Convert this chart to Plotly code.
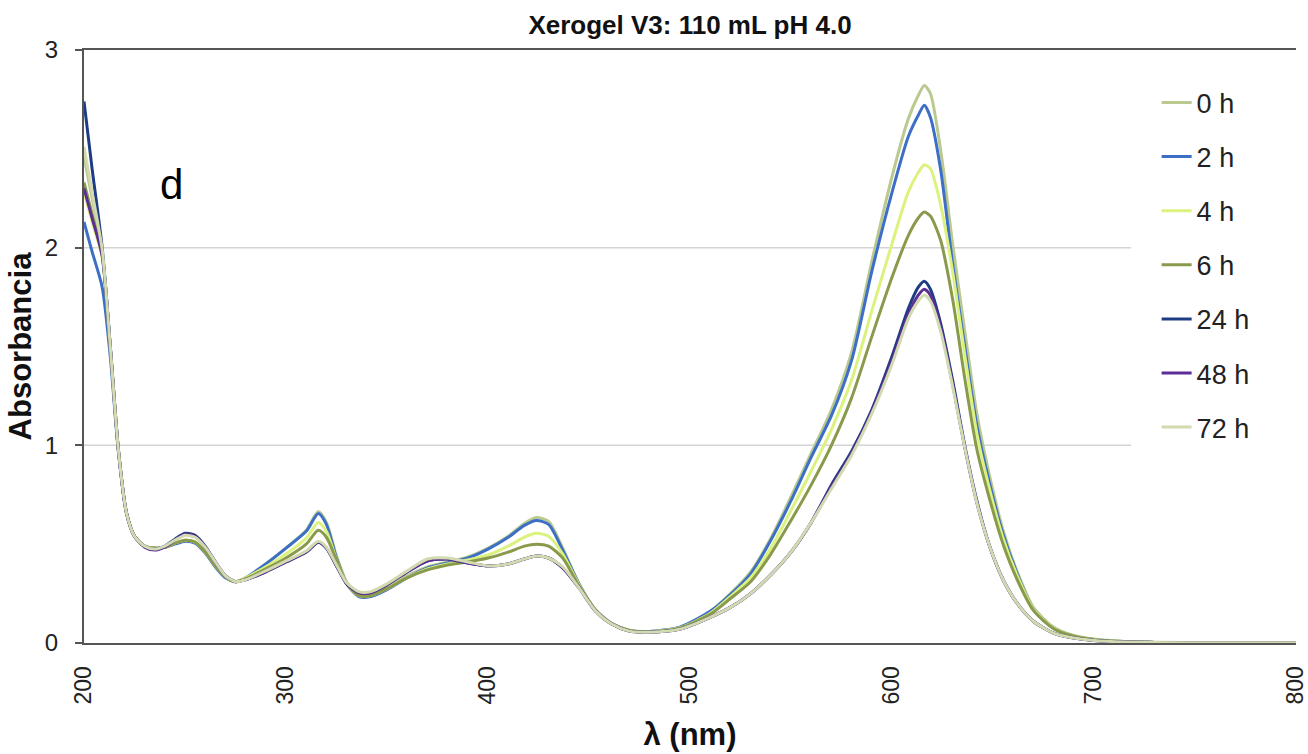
import plotly.graph_objects as go

# Wavelength grid (nm) shared by every spectrum
wavelength = [200, 204, 209, 213, 217, 221, 225, 230, 235, 240,
              245, 250, 255, 260, 265, 270, 275, 280, 290, 300,
              310, 316, 320, 325, 330, 336, 342, 350, 360, 370,
              380, 390, 400, 410, 418, 424, 430, 437, 445, 453,
              461, 470, 480, 495, 510, 520, 530, 540, 550, 560,
              570, 580, 590, 600, 608, 613, 616, 619, 624, 630,
              636, 642, 648, 655, 662, 670, 680, 690, 700, 715,
              730, 760, 800]

abs_0h = [2.46, 2.25, 1.98, 1.50, 0.98, 0.66, 0.54, 0.49, 0.48, 0.485,
          0.505, 0.52, 0.51, 0.46, 0.39, 0.335, 0.31, 0.33, 0.40, 0.48,
          0.57, 0.665, 0.61, 0.44, 0.31, 0.245, 0.245, 0.28, 0.34, 0.385,
          0.41, 0.435, 0.48, 0.54, 0.605, 0.635, 0.615, 0.48, 0.30, 0.17,
          0.10, 0.065, 0.058, 0.08, 0.16, 0.25, 0.36, 0.53, 0.74, 0.96,
          1.18, 1.47, 1.93, 2.36, 2.65, 2.77, 2.82, 2.78, 2.50, 2.02,
          1.58, 1.16, 0.86, 0.57, 0.36, 0.18, 0.08, 0.038, 0.02, 0.008,
          0.004, 0.002, 0.001]

abs_2h = [2.13, 1.98, 1.80, 1.45, 0.97, 0.66, 0.54, 0.49, 0.48, 0.485,
          0.50, 0.515, 0.505, 0.455, 0.385, 0.33, 0.31, 0.33, 0.40, 0.48,
          0.565, 0.655, 0.60, 0.43, 0.30, 0.235, 0.235, 0.27, 0.33, 0.38,
          0.405, 0.43, 0.475, 0.535, 0.595, 0.62, 0.60, 0.47, 0.30, 0.17,
          0.10, 0.064, 0.058, 0.08, 0.16, 0.245, 0.35, 0.52, 0.72, 0.94,
          1.15, 1.43, 1.88, 2.28, 2.56, 2.67, 2.72, 2.66, 2.40, 1.92,
          1.50, 1.10, 0.82, 0.55, 0.35, 0.17, 0.075, 0.035, 0.018, 0.007,
          0.003, 0.002, 0.001]

abs_4h = [2.28, 2.13, 1.95, 1.49, 0.98, 0.66, 0.54, 0.49, 0.48, 0.485,
          0.505, 0.52, 0.51, 0.46, 0.39, 0.335, 0.31, 0.33, 0.385, 0.45,
          0.53, 0.61, 0.565, 0.42, 0.30, 0.24, 0.24, 0.275, 0.33, 0.375,
          0.40, 0.42, 0.445, 0.49, 0.535, 0.555, 0.54, 0.45, 0.295, 0.17,
          0.10, 0.063, 0.057, 0.077, 0.15, 0.235, 0.33, 0.48, 0.67, 0.87,
          1.08, 1.33, 1.68, 2.02, 2.28, 2.38, 2.42, 2.40, 2.22, 1.88,
          1.46, 1.06, 0.79, 0.53, 0.34, 0.17, 0.075, 0.035, 0.018, 0.007,
          0.003, 0.002, 0.001]

abs_6h = [2.33, 2.17, 1.96, 1.50, 0.98, 0.66, 0.54, 0.49, 0.48, 0.485,
          0.505, 0.52, 0.51, 0.46, 0.39, 0.335, 0.31, 0.325, 0.375, 0.43,
          0.50, 0.57, 0.535, 0.42, 0.30, 0.24, 0.24, 0.275, 0.33, 0.37,
          0.395, 0.41, 0.43, 0.46, 0.49, 0.50, 0.49, 0.43, 0.29, 0.17,
          0.10, 0.063, 0.057, 0.075, 0.145, 0.225, 0.31, 0.45, 0.62, 0.80,
          1.00, 1.24, 1.55, 1.85, 2.06, 2.15, 2.18, 2.16, 2.04, 1.74,
          1.34, 0.98, 0.74, 0.50, 0.32, 0.165, 0.072, 0.034, 0.017, 0.007,
          0.003, 0.002, 0.001]

abs_24h = [2.74, 2.40, 2.00, 1.50, 0.98, 0.66, 0.54, 0.49, 0.475, 0.49,
           0.525, 0.555, 0.545, 0.49, 0.41, 0.34, 0.31, 0.32, 0.36, 0.41,
           0.46, 0.51, 0.48, 0.39, 0.30, 0.255, 0.255, 0.295, 0.36, 0.415,
           0.425, 0.405, 0.39, 0.40, 0.425, 0.44, 0.43, 0.38, 0.28, 0.165,
           0.097, 0.06, 0.055, 0.07, 0.13, 0.18, 0.25, 0.345, 0.46, 0.61,
           0.80, 0.97, 1.18, 1.45, 1.69, 1.80, 1.83, 1.79, 1.62, 1.33,
           1.00, 0.72, 0.50, 0.32, 0.20, 0.11, 0.05, 0.025, 0.013, 0.005,
           0.003, 0.001, 0.001]

abs_48h = [2.30, 2.15, 1.96, 1.50, 0.98, 0.66, 0.54, 0.485, 0.47, 0.485,
           0.52, 0.55, 0.54, 0.485, 0.41, 0.34, 0.31, 0.32, 0.36, 0.41,
           0.46, 0.51, 0.48, 0.39, 0.30, 0.255, 0.255, 0.295, 0.36, 0.415,
           0.425, 0.405, 0.39, 0.40, 0.425, 0.44, 0.43, 0.38, 0.28, 0.165,
           0.097, 0.06, 0.055, 0.07, 0.13, 0.18, 0.25, 0.345, 0.46, 0.61,
           0.79, 0.96, 1.17, 1.43, 1.66, 1.76, 1.79, 1.76, 1.60, 1.31,
           0.99, 0.71, 0.50, 0.32, 0.20, 0.11, 0.05, 0.025, 0.013, 0.005,
           0.003, 0.001, 0.001]

abs_72h = [2.51, 2.28, 1.99, 1.50, 0.98, 0.66, 0.54, 0.49, 0.475, 0.49,
           0.52, 0.545, 0.535, 0.485, 0.41, 0.34, 0.31, 0.32, 0.365, 0.415,
           0.465, 0.515, 0.485, 0.395, 0.305, 0.26, 0.26, 0.30, 0.365, 0.425,
           0.43, 0.41, 0.39, 0.40, 0.425, 0.44, 0.43, 0.385, 0.28, 0.165,
           0.097, 0.06, 0.055, 0.07, 0.13, 0.18, 0.25, 0.345, 0.46, 0.61,
           0.78, 0.95, 1.16, 1.41, 1.64, 1.73, 1.76, 1.73, 1.58, 1.30,
           0.99, 0.71, 0.50, 0.32, 0.20, 0.11, 0.05, 0.025, 0.013, 0.005,
           0.003, 0.001, 0.001]

series_names = ["0 h", "2 h", "4 h", "6 h", "24 h", "48 h", "72 h"]
series_values = [abs_0h, abs_2h, abs_4h, abs_6h, abs_24h, abs_48h, abs_72h]
series_colors = ["#b9c98f", "#3d6fc6", "#dcf27e", "#8a9a4c",
                 "#1e3c84", "#5c2e95", "#d2dab0"]

y_ticks = [0, 1, 2, 3]
x_ticks = [200, 300, 400, 500, 600, 700, 800]

FONT = "Liberation Sans, Arial, Helvetica, sans-serif"

fig = go.Figure()
for i, (name, vals, col) in enumerate(zip(series_names, series_values, series_colors)):
    fig.add_trace(go.Scatter(
        x=wavelength, y=vals, name=name, mode="lines",
        line=dict(color=col, width=3, shape="spline", smoothing=0.7),
        legendgroup=f"g{i}",
    ))

# light horizontal grid lines (stop short of the legend column)
for v in y_ticks[1:-1]:
    fig.add_shape(type="line", xref="paper", yref="y", x0=0, x1=0.864, y0=v, y1=v,
                  line=dict(color="#d4d4d4", width=1.5), layer="below")

fig.add_annotation(x=243.5, y=2.32, xref="x", yref="y", text="d", showarrow=False,
                   font=dict(family=FONT, size=42, color="#000000"))

fig.update_layout(
    width=1308, height=754,
    margin=dict(l=84, r=12, t=50, b=111),
    paper_bgcolor="white", plot_bgcolor="white",
    title=dict(text="<b>Xerogel V3: 110 mL pH 4.0</b>", x=0.5, xref="paper",
               y=1 - 25 / 754, yref="container", yanchor="middle", xanchor="center",
               font=dict(family=FONT, size=26, color="#111111")),
    showlegend=True,
    legend=dict(x=0.885, xanchor="left", y=0.952, yanchor="top",
                font=dict(family=FONT, size=27, color="#222222"),
                bgcolor="rgba(0,0,0,0)", traceorder="grouped",
                tracegroupgap=16),
    xaxis=dict(range=[200, 800], tickvals=x_ticks, tickangle=-90,
               automargin=False,
               showgrid=False, zeroline=False, showline=True, linecolor="#555555",
               linewidth=2, mirror=True, ticks="", ticklabelstandoff=12,
               ticklabeloverflow="allow",
               tickfont=dict(family=FONT, size=23, color="#222222"),
               title=dict(text="<b>λ (nm)</b>", standoff=20,
                          font=dict(family=FONT, size=31, color="#111111"))),
    yaxis=dict(range=[0, 3], tickvals=y_ticks, showgrid=False, zeroline=False,
               automargin=False,
               showline=True, linecolor="#555555", linewidth=2,
               ticks="outside", ticklen=7, tickcolor="#555555", tickwidth=2,
               ticklabelstandoff=12,
               tickfont=dict(family=FONT, size=24, color="#222222"),
               title=dict(text="<b>Absorbancia</b>", standoff=4,
                          font=dict(family=FONT, size=31, color="#111111"))),
)

fig.write_html("out.html")
